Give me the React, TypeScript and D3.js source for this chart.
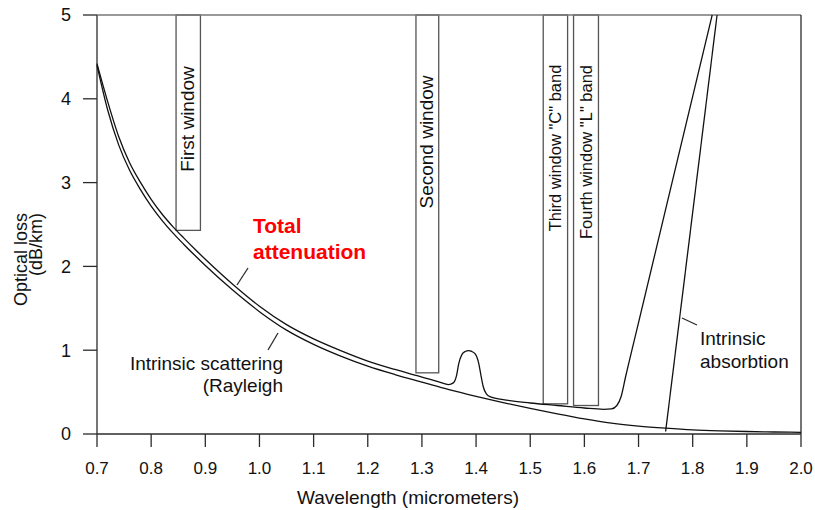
import React from 'react';
import * as d3 from 'd3';

// wavelength (micrometers) / optical loss (dB/km)
const rayleighLambda = [0.70, 0.72, 0.74, 0.76, 0.78, 0.80, 0.82, 0.84, 0.86, 0.88, 0.90, 0.95, 1.00, 1.05, 1.10, 1.15, 1.20, 1.25, 1.30, 1.35, 1.40, 1.45, 1.50, 1.55, 1.60, 1.65, 1.70, 1.75, 1.80, 1.85, 1.90, 1.95, 2.00];
const rayleighLoss = [4.40, 3.86, 3.45, 3.15, 2.92, 2.72, 2.55, 2.40, 2.265, 2.135, 2.01, 1.72, 1.46, 1.24, 1.07, 0.93, 0.81, 0.71, 0.62, 0.53, 0.45, 0.375, 0.305, 0.24, 0.18, 0.13, 0.095, 0.07, 0.05, 0.038, 0.03, 0.024, 0.02];

const totalLambda = [0.70, 0.72, 0.74, 0.76, 0.78, 0.80, 0.82, 0.84, 0.86, 0.88, 0.90, 0.95, 1.00, 1.05, 1.10, 1.15, 1.20, 1.25, 1.30, 1.34, 1.349, 1.358, 1.364, 1.368, 1.374, 1.380, 1.386, 1.392, 1.399, 1.405, 1.409, 1.413, 1.419, 1.428, 1.45, 1.50, 1.55, 1.60, 1.635, 1.650, 1.660, 1.668, 1.676, 1.70, 1.753, 1.80, 1.836];
const totalLoss = [4.42, 3.96, 3.55, 3.24, 3.005, 2.80, 2.625, 2.475, 2.34, 2.21, 2.085, 1.79, 1.525, 1.305, 1.135, 0.995, 0.87, 0.77, 0.68, 0.605, 0.59, 0.61, 0.70, 0.84, 0.95, 0.985, 0.995, 0.985, 0.95, 0.84, 0.70, 0.57, 0.48, 0.44, 0.41, 0.37, 0.34, 0.31, 0.295, 0.30, 0.34, 0.45, 0.68, 1.33, 2.76, 4.03, 5.0];

const absorptionLambda = [1.750, 1.845];
const absorptionLoss = [0.03, 5.0];

const windowNames = ['First window', 'Second window', 'Third window "C" band', 'Fourth window "L" band'];
const windowFrom = [0.846, 1.289, 1.524, 1.580];
const windowTo = [0.891, 1.331, 1.569, 1.626];
const windowBottom = [2.43, 0.73, 0.36, 0.34];

const xTicks = [0.7, 0.8, 0.9, 1.0, 1.1, 1.2, 1.3, 1.4, 1.5, 1.6, 1.7, 1.8, 1.9, 2.0];
const yTicks = [0, 1, 2, 3, 4, 5];

const W = 815;
const H = 510;
const font = '"Liberation Sans", Arial, sans-serif';
const ink = '#2b2b2b';

export default function App() {
  const x = d3.scaleLinear().domain([0.7, 2.0]).range([97, 801]);
  const y = d3.scaleLinear().domain([0, 5]).range([434, 15]);

  const smooth = d3.line<[number, number]>()
    .x(d => x(d[0]))
    .y(d => y(d[1]))
    .curve(d3.curveMonotoneX);
  const straight = d3.line<[number, number]>().x(d => x(d[0])).y(d => y(d[1]));

  const rayleigh = smooth(rayleighLambda.map((l, i) => [l, rayleighLoss[i]]));
  const total = smooth(totalLambda.map((l, i) => [l, totalLoss[i]]));
  const absorption = straight(absorptionLambda.map((l, i) => [l, absorptionLoss[i]]));

  // label layout (pixel tweaks to sit like the original)
  const windowLabelY = [119, 142, 148, 152];
  const windowFont = [19, 19, 16.5, 16.5];

  return (
    <svg width={W} height={H} style={{ position: 'absolute', left: 0, top: 0, background: '#fff' }} fontFamily={font}>
      <rect width={W} height={H} fill="#fff" />

      {/* windows */}
      {windowNames.map((name, i) => {
        const x0 = x(windowFrom[i]);
        const x1 = x(windowTo[i]);
        const cx = (x0 + x1) / 2 + 6;
        return (
          <g key={name}>
            <rect x={x0} y={y(5)} width={x1 - x0} height={y(windowBottom[i]) - y(5)}
              fill="none" stroke="#555" strokeWidth={1.3} />
            <text transform={`translate(${cx},${windowLabelY[i]}) rotate(-90)`} textAnchor="middle"
              fontSize={windowFont[i]} fill="#111">{name}</text>
          </g>
        );
      })}

      {/* frame */}
      <g stroke={ink} strokeWidth={1.3} fill="none">
        <line x1={x(0.7)} y1={y(0)} x2={x(0.7)} y2={y(5)} />
        <line x1={x(0.7)} y1={y(0)} x2={x(2.0)} y2={y(0)} />
        <line x1={x(0.7)} y1={y(5)} x2={x(2.0)} y2={y(5)} stroke="#777" strokeWidth={1.6} />
        <line x1={x(2.0)} y1={y(5)} x2={x(2.0)} y2={y(0)} />
        {yTicks.map(t => <line key={t} x1={x(0.7) - 14} x2={x(0.7)} y1={y(t)} y2={y(t)} />)}
        {xTicks.map(t => <line key={t} x1={x(t)} x2={x(t)} y1={y(0)} y2={y(0) + 13} />)}
      </g>

      {/* curves */}
      <path d={rayleigh ?? ''} fill="none" stroke="#111" strokeWidth={1.3} />
      <path d={total ?? ''} fill="none" stroke="#111" strokeWidth={1.3} />
      <path d={absorption ?? ''} fill="none" stroke="#111" strokeWidth={1.3} />

      {/* tick labels */}
      {yTicks.map(t => (
        <text key={t} x={x(0.7) - 26} y={y(t)} dy="0.36em" textAnchor="end" fontSize={18} fill="#111">{t}</text>
      ))}
      {xTicks.map(t => (
        <text key={t} x={x(t)} y={474} textAnchor="middle" fontSize={17} fill="#111">{d3.format('.1f')(t)}</text>
      ))}

      {/* axis titles */}
      <text x={408} y={504} textAnchor="middle" fontSize={19} fill="#111">Wavelength (micrometers)</text>
      <text transform="translate(27,213) rotate(-90)" textAnchor="end" fontSize={18} fill="#111">Optical loss</text>
      <text transform="translate(42,213) rotate(-90)" textAnchor="end" fontSize={18} fill="#111">(dB/km)</text>

      {/* annotations */}
      <text x={253} y={233} fontSize={21} fontWeight="bold" fill="#ff0000">Total</text>
      <text x={253} y={259} fontSize={21} fontWeight="bold" fill="#ff0000">attenuation</text>
      <line x1={248} y1={268} x2={237} y2={285} stroke={ink} strokeWidth={1.3} />

      <text x={283} y={370} textAnchor="end" fontSize={19} fill="#111">Intrinsic scattering</text>
      <text x={283} y={392} textAnchor="end" fontSize={19} fill="#111">(Rayleigh</text>
      <line x1={278} y1={333} x2={268} y2={350} stroke={ink} strokeWidth={1.3} />

      <text x={700} y={345} fontSize={19} fill="#111">Intrinsic</text>
      <text x={700} y={368} fontSize={19} fill="#111">absorbtion</text>
      <line x1={682} y1={318} x2={697} y2={325} stroke={ink} strokeWidth={1.3} />
    </svg>
  );
}
